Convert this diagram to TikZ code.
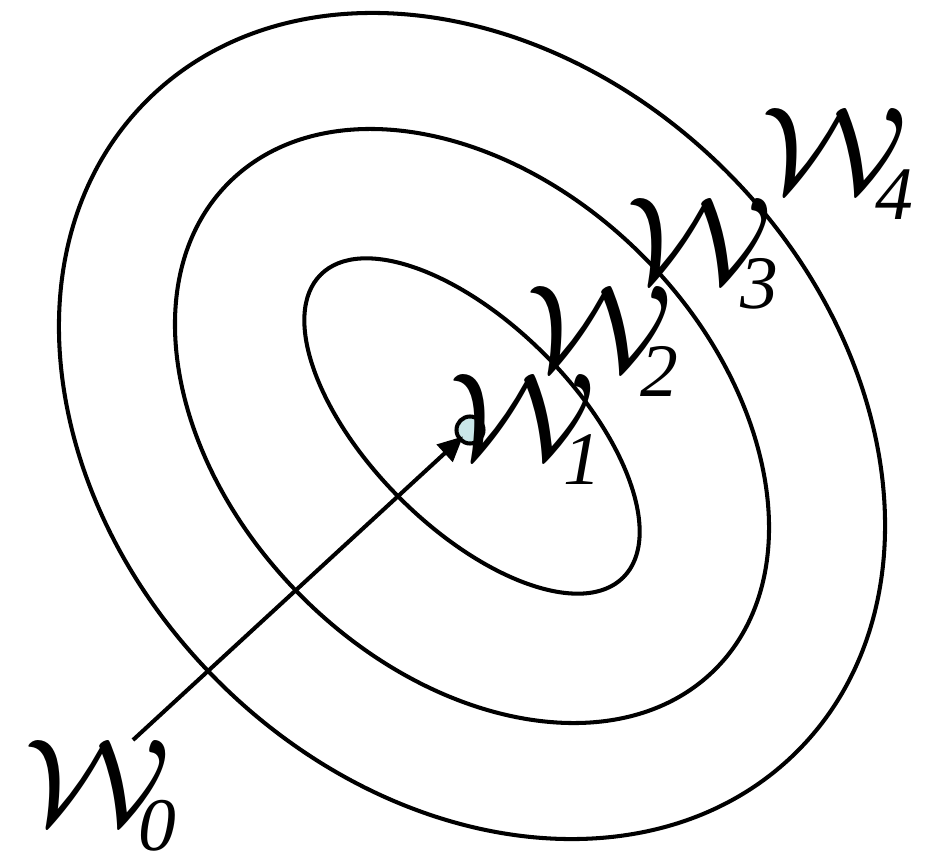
\documentclass[tikz,border=0pt]{standalone}
\usepackage{fontspec}
\newfontfamily\digfont{Liberation Serif}
\usetikzlibrary{arrows.meta}
\definecolor{dotfill}{HTML}{C9E6E8}
\tikzset{
  contour/.style={draw=black, line width=2.3pt},
  wlabel/.style={inner sep=0pt, outer sep=0pt, anchor=base west},
  dotnode/.style={circle, draw=black, line width=2.3pt, fill=dotfill, minimum size=0.54cm, inner sep=0pt, outer sep=0pt},
  move/.style={line width=2.3pt, -{Triangle[length=0.5cm,width=0.46cm]}, shorten >=-0.08cm},
}
\newcommand{\wsub}[1]{\scalebox{10}{$\scriptstyle\mathcal{W}$}\kern-19pt\raisebox{-15pt}{\fontsize{43}{50}\selectfont\digfont\itshape #1}}
\begin{document}
\begin{tikzpicture}
  \useasboundingbox (0,0) rectangle (18.82,17.16);
  \coordinate (c) at (9.44,8.64);
  \draw[contour] (c) ellipse [x radius=9.2cm, y radius=7.2cm, rotate=-45];
  \draw[contour] (c) ellipse [x radius=6.88cm, y radius=4.82cm, rotate=-45];
  \draw[contour] (c) ellipse [x radius=4.28cm, y radius=2.04cm, rotate=-45];
  \node[dotnode] (dot) at (9.40,8.56) {};
  \coordinate (start) at (2.66,2.36);
  \draw[move] (start) -- (dot);
  \node[wlabel] (w0) at (0.44,0.68) {\wsub{0}};
  \node[wlabel] (w1) at (8.94,8.00) {\wsub{1}};
  \node[wlabel] (w2) at (10.48,9.76) {\wsub{2}};
  \node[wlabel] (w3) at (12.48,11.52) {\wsub{3}};
  \node[wlabel] (w4) at (15.18,13.30) {\wsub{4}};
\end{tikzpicture}
\end{document}
